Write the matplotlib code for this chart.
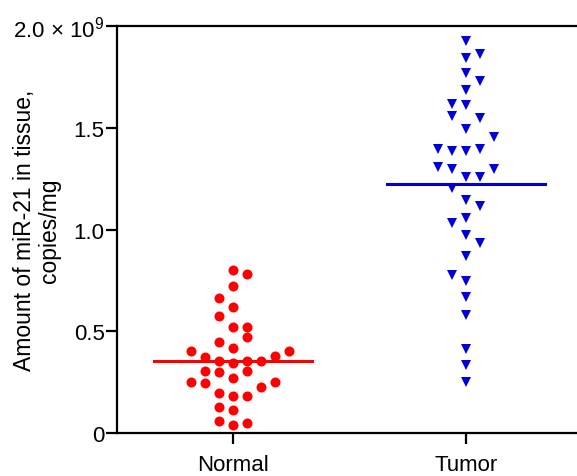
import matplotlib.pyplot as plt
import numpy as np

plt.rcParams['font.family'] = ['Liberation Sans', 'DejaVu Sans']
plt.rcParams['mathtext.fontset'] = 'custom'
plt.rcParams['mathtext.rm'] = 'Liberation Sans'
plt.rcParams['mathtext.default'] = 'regular'

groups = ["Normal", "Tumor"]

# miR-21 copies/mg, in units of 1e9
normal = [0.802, 0.781, 0.724, 0.662, 0.621, 0.577, 0.522, 0.522, 0.473, 0.449,
          0.418, 0.401, 0.404, 0.372, 0.380, 0.352, 0.344, 0.352, 0.355, 0.306,
          0.298, 0.303, 0.269, 0.249, 0.244, 0.249, 0.228, 0.195, 0.183, 0.183,
          0.129, 0.115, 0.060, 0.039, 0.049]
# column slot of each point in the scatter (beeswarm layout)
normal_slot = [0, 1, 0, -1, 0, -1, 0, 1, 1, -1,
               0, -3, 4, -2, 3, -1, 0, 1, 2, -2,
               -1, 1, 0, -3, -2, 3, 2, -1, 0, 1,
               -1, 0, -1, 0, 1]

tumor = [1.928, 1.843, 1.862, 1.768, 1.731, 1.686, 1.617, 1.613, 1.556, 1.546,
         1.494, 1.456, 1.396, 1.387, 1.387, 1.396, 1.306, 1.297, 1.297, 1.256,
         1.256, 1.204, 1.146, 1.117, 1.032, 1.055, 0.975, 0.934, 0.868, 0.778,
         0.749, 0.667, 0.581, 0.413, 0.336, 0.249]
tumor_slot = [0, 0, 1, 0, 1, 0, -1, 0, -1, 1,
              0, 2, -2, -1, 0, 1, -2, -1, 2, 0,
              1, -1, 0, 1, -1, 0, 0, 1, 0, -1,
              0, 0, 0, 0, 0, 0]

normal_center = 0.352
tumor_center = 1.226

yticks = [0, 0.5, 1.0, 1.5, 2.0]
ytick_labels = ["0", "0.5", "1.0", "1.5", r"2.0 × 10$^{9}$"]

fig = plt.figure(figsize=(5.77, 4.77), dpi=100)
ax = fig.add_axes([0.2028, 0.0901, 0.82, 0.8533])

step = 0.06
ax.plot(1 + np.array(normal_slot) * step, normal, 'o', color='#ff0000',
        markersize=7.2, markeredgewidth=0, clip_on=False)
ax.plot(2 + np.array(tumor_slot) * step, tumor, 'v', color='#0000dd',
        markersize=7.2, markeredgewidth=0, clip_on=False)

hw = 0.338
ax.plot([1 - hw, 1 + hw], [normal_center, normal_center], color='#ff0000', lw=2.2)
ax.plot([2 - hw, 2 + hw], [tumor_center, tumor_center], color='#0000dd', lw=2.2)

ax.set_xlim(0.504, 2.47 + 0.06)
ax.set_ylim(0, 2.0)
ax.set_xticks([1, 2])
ax.set_xticklabels(groups, fontsize=16)
ax.set_yticks(yticks)
ax.set_yticklabels(ytick_labels, fontsize=16)
ax.tick_params(axis='y', length=8, width=1.6, pad=1)
ax.tick_params(axis='x', length=8, width=1.6, pad=7)

for side in ['left', 'bottom', 'top']:
    ax.spines[side].set_linewidth(1.6)
ax.spines['right'].set_visible(False)

ax.set_ylabel("Amount of miR-21 in tissue,\ncopies/mg", fontsize=16.5,
              linespacing=1.1)
ax.yaxis.set_label_coords(-0.118, 0.5)

fig.savefig("out.png", dpi=100)
